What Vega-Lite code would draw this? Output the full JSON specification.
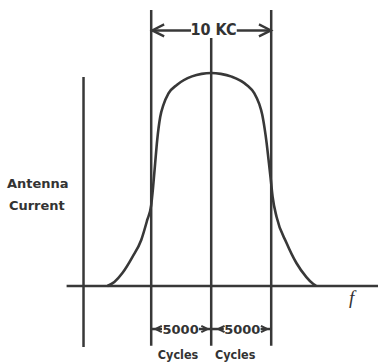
{
  "$schema": "https://vega.github.io/schema/vega-lite/v6.json",
  "width": 380,
  "height": 363,
  "padding": 0,
  "autosize": {"type": "fit", "contains": "padding"},
  "background": "white",
  "config": {"view": {"stroke": null}},
  "datasets": {
    "curve": [
      {"f": -8.65, "i": 0}, {"f": -8.07, "i": 0.019}, {"f": -7.40, "i": 0.061}, {"f": -6.57, "i": 0.136},
      {"f": -5.83, "i": 0.216}, {"f": -5.33, "i": 0.31}, {"f": -5.0, "i": 0.38}, {"f": -4.85, "i": 0.46},
      {"f": -4.67, "i": 0.577}, {"f": -4.50, "i": 0.685}, {"f": -4.25, "i": 0.793}, {"f": -3.98, "i": 0.85},
      {"f": -3.56, "i": 0.904}, {"f": -2.84, "i": 0.945}, {"f": -1.60, "i": 0.984}, {"f": -0.8, "i": 0.996}, {"f": 0.0, "i": 1.0},
      {"f": 0.8, "i": 0.996}, {"f": 1.70, "i": 0.983}, {"f": 2.95, "i": 0.944}, {"f": 3.60, "i": 0.904}, {"f": 4.00, "i": 0.855},
      {"f": 4.25, "i": 0.805}, {"f": 4.45, "i": 0.74}, {"f": 4.62, "i": 0.671}, {"f": 4.78, "i": 0.592},
      {"f": 4.95, "i": 0.507}, {"f": 5.12, "i": 0.418}, {"f": 5.45, "i": 0.324}, {"f": 6.28, "i": 0.202},
      {"f": 7.10, "i": 0.108}, {"f": 7.93, "i": 0.042}, {"f": 8.51, "i": 0.009}, {"f": 8.76, "i": 0}
    ],
    "rules": [
      {"x": -12.05, "x2": 13.9, "y": 0, "y2": 0},
      {"x": -10.64, "x2": -10.64, "y": 0.981, "y2": -0.286},
      {"x": -5, "x2": -5, "y": 1.296, "y2": -0.28},
      {"x": 5, "x2": 5, "y": 1.296, "y2": -0.28},
      {"x": 0, "x2": 0, "y": 1.164, "y2": -0.28},
      {"x": -5, "x2": -1.68, "y": 1.2, "y2": 1.2},
      {"x": 2.13, "x2": 5, "y": 1.2, "y2": 1.2},
      {"x": -5, "x2": -4.1, "y": -0.202, "y2": -0.202},
      {"x": -1.02, "x2": 0, "y": -0.202, "y2": -0.202},
      {"x": 0, "x2": 1.05, "y": -0.202, "y2": -0.202},
      {"x": 4.12, "x2": 5, "y": -0.202, "y2": -0.202}
    ],
    "bigArrows": [
      {"x": -4.42, "y": 1.2, "dir": "left"},
      {"x": 4.48, "y": 1.2, "dir": "right"}
    ],
    "smallArrows": [
      {"x": -4.38, "y": -0.202, "dir": "left"},
      {"x": -0.56, "y": -0.202, "dir": "right"},
      {"x": 0.85, "y": -0.202, "dir": "left"},
      {"x": 4.41, "y": -0.202, "dir": "right"}
    ],
    "title": [{"x": 0.2, "y": 1.178, "t": "10 KC"}],
    "dims": [
      {"x": -2.55, "y": -0.2254, "t": "5000"},
      {"x": 2.59, "y": -0.2254, "t": "5000"}
    ],
    "cycles": [
      {"x": -2.76, "y": -0.3427, "t": "Cycles"},
      {"x": 2.0, "y": -0.3427, "t": "Cycles"}
    ],
    "ylab": [
      {"x": -14.45, "y": 0.46, "t": "Antenna"},
      {"x": -14.53, "y": 0.357, "t": "Current"}
    ],
    "flab": [{"x": 11.7, "y": -0.083, "t": "f"}]
  },
  "resolve": {"scale": {"x": "shared", "y": "shared"}},
  "layer": [
    {
      "data": {"name": "rules"},
      "mark": {"type": "rule", "color": "#383838", "strokeWidth": 2.5},
      "encoding": {
        "x": {"field": "x", "type": "quantitative", "scale": {"domain": [-17.6, 13.9], "nice": false, "zero": false}, "axis": null},
        "x2": {"field": "x2"},
        "y": {"field": "y", "type": "quantitative", "scale": {"domain": [-0.3615, 1.3427], "nice": false, "zero": false}, "axis": null},
        "y2": {"field": "y2"}
      }
    },
    {
      "data": {"name": "curve"},
      "mark": {"type": "line", "color": "#383838", "strokeWidth": 2.6, "interpolate": "monotone"},
      "encoding": {
        "x": {"field": "f", "type": "quantitative"},
        "y": {"field": "i", "type": "quantitative"}
      }
    },
    {
      "data": {"name": "bigArrows"},
      "mark": {"type": "point", "filled": false, "color": "#383838", "strokeWidth": 2.3, "size": 144, "opacity": 1},
      "encoding": {
        "x": {"field": "x", "type": "quantitative"},
        "y": {"field": "y", "type": "quantitative"},
        "shape": {"field": "dir", "type": "nominal", "legend": null, "scale": {"domain": ["left", "right"], "range": ["M1,-1L-1,0L1,1", "M-1,-1L1,0L-1,1"]}}
      }
    },
    {
      "data": {"name": "smallArrows"},
      "mark": {"type": "point", "filled": false, "color": "#383838", "strokeWidth": 2, "size": 40, "opacity": 1},
      "encoding": {
        "x": {"field": "x", "type": "quantitative"},
        "y": {"field": "y", "type": "quantitative"},
        "shape": {"field": "dir", "type": "nominal", "legend": null, "scale": {"domain": ["left", "right"], "range": ["M0.8,-1L-0.8,0L0.8,1", "M-0.8,-1L0.8,0L-0.8,1"]}}
      }
    },
    {
      "data": {"name": "title"},
      "mark": {"type": "text", "font": "DejaVu Sans Condensed", "fontWeight": "bold", "fontSize": 16, "color": "#333", "align": "center", "baseline": "alphabetic"},
      "encoding": {
        "x": {"field": "x", "type": "quantitative"},
        "y": {"field": "y", "type": "quantitative"},
        "text": {"field": "t"}
      }
    },
    {
      "data": {"name": "dims"},
      "mark": {"type": "text", "font": "DejaVu Sans", "fontWeight": "bold", "fontSize": 13, "color": "#333", "align": "center", "baseline": "alphabetic"},
      "encoding": {
        "x": {"field": "x", "type": "quantitative"},
        "y": {"field": "y", "type": "quantitative"},
        "text": {"field": "t"}
      }
    },
    {
      "data": {"name": "cycles"},
      "mark": {"type": "text", "font": "DejaVu Sans Condensed", "fontWeight": "bold", "fontSize": 12.5, "color": "#333", "align": "center", "baseline": "alphabetic"},
      "encoding": {
        "x": {"field": "x", "type": "quantitative"},
        "y": {"field": "y", "type": "quantitative"},
        "text": {"field": "t"}
      }
    },
    {
      "data": {"name": "ylab"},
      "mark": {"type": "text", "font": "DejaVu Sans", "fontWeight": "bold", "fontSize": 13, "color": "#333", "align": "center", "baseline": "alphabetic"},
      "encoding": {
        "x": {"field": "x", "type": "quantitative"},
        "y": {"field": "y", "type": "quantitative"},
        "text": {"field": "t"}
      }
    },
    {
      "data": {"name": "flab"},
      "mark": {"type": "text", "font": "Liberation Serif", "fontStyle": "italic", "fontSize": 19, "color": "#333", "align": "center", "baseline": "alphabetic"},
      "encoding": {
        "x": {"field": "x", "type": "quantitative"},
        "y": {"field": "y", "type": "quantitative"},
        "text": {"field": "t"}
      }
    }
  ]
}
